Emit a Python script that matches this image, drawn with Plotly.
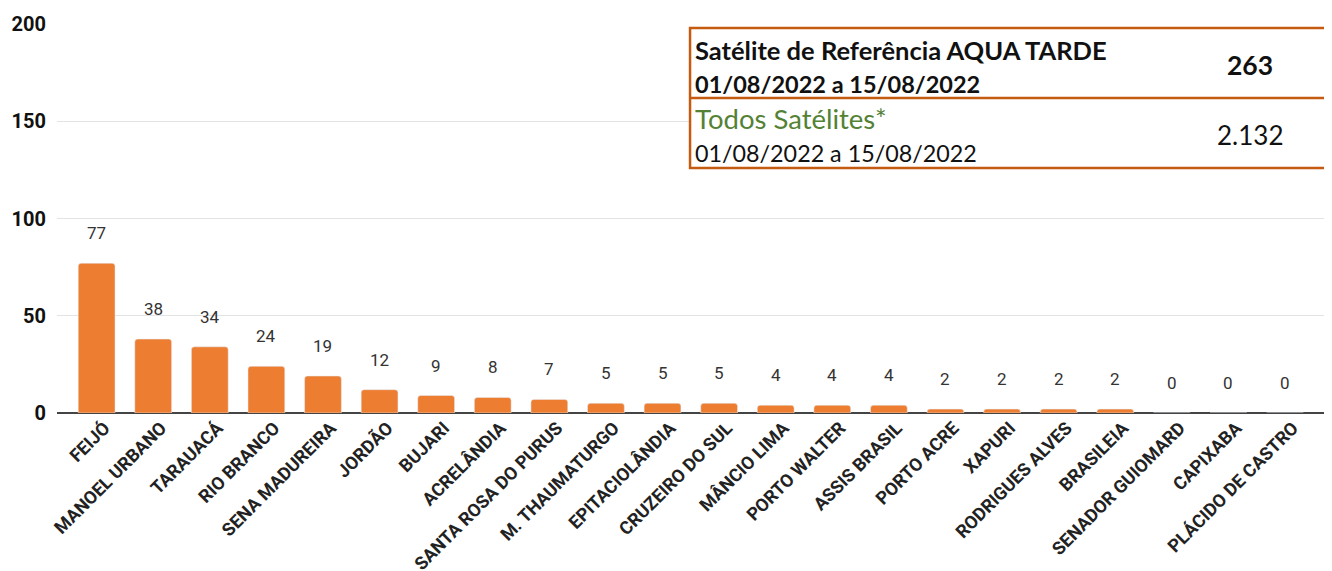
import plotly.graph_objects as go

categorias = ["FEIJÓ", "MANOEL URBANO", "TARAUACÁ", "RIO BRANCO", "SENA MADUREIRA",
              "JORDÃO", "BUJARI", "ACRELÂNDIA", "SANTA ROSA DO PURUS", "M. THAUMATURGO",
              "EPITACIOLÂNDIA", "CRUZEIRO DO SUL", "MÂNCIO LIMA", "PORTO WALTER",
              "ASSIS BRASIL", "PORTO ACRE", "XAPURI", "RODRIGUES ALVES", "BRASILEIA",
              "SENADOR GUIOMARD", "CAPIXABA", "PLÁCIDO DE CASTRO"]
focos = [77, 38, 34, 24, 19, 12, 9, 8, 7, 5, 5, 5, 4, 4, 4, 2, 2, 2, 2, 0, 0, 0]
y_ticks = [0, 50, 100, 150, 200]

ref_titulo = "Satélite de Referência"
ref_satelite = "AQUA TARDE"
periodo = "01/08/2022 a 15/08/2022"
ref_total = "263"
todos_titulo = "Todos Satélites*"
todos_total = "2.132"

BAR = "#ED7D31"
BORDER = "#C55A11"
GREEN = "#548235"

fig = go.Figure()
fig.add_trace(go.Bar(
    x=list(range(len(categorias))), y=focos,
    marker=dict(color=BAR, cornerradius=3),
    width=0.65, hoverinfo="x+y",
))

for i, v in enumerate(focos):
    fig.add_annotation(x=i, y=v, text=str(v), showarrow=False, yshift=30,
                       font=dict(family="Roboto", size=17, color="#333333"))

# table box
L, T, B, M, R = 0.4965, 0.9897, 0.6298, 0.8098, 0.9995
fig.add_shape(type="rect", xref="paper", yref="paper", x0=L, x1=R, y0=B, y1=T,
              fillcolor="white", line=dict(color=BORDER, width=2.5), layer="above")
fig.add_shape(type="line", xref="paper", yref="paper", x0=L, x1=R, y0=M, y1=M,
              line=dict(color=BORDER, width=2.5), layer="above")

tx = 0.4985
cx = 0.9357
fnt = "Lato"
fig.add_annotation(xref="paper", yref="paper", x=tx, y=0.933, xanchor="left", yanchor="middle",
                   text=f"<b>{ref_titulo} {ref_satelite}</b>",
                   showarrow=False, font=dict(family=fnt, size=25.5, color="#111111"))
fig.add_annotation(xref="paper", yref="paper", x=tx, y=0.8458, xanchor="left", yanchor="middle",
                   text=f"<b>{periodo}</b>", showarrow=False,
                   font=dict(family=fnt, size=23.5, color="#111111"))
fig.add_annotation(xref="paper", yref="paper", x=cx, y=0.8946, xanchor="center", yanchor="middle",
                   text=f"<b>{ref_total}</b>", showarrow=False,
                   font=dict(family=fnt, size=26.5, color="#111111"))
fig.add_annotation(xref="paper", yref="paper", x=tx, y=0.7558, xanchor="left", yanchor="middle",
                   text=todos_titulo, showarrow=False,
                   font=dict(family=fnt, size=27.5, color=GREEN))
fig.add_annotation(xref="paper", yref="paper", x=tx, y=0.668, xanchor="left", yanchor="middle",
                   text=periodo, showarrow=False,
                   font=dict(family=fnt, size=23.3, color="#111111"))
fig.add_annotation(xref="paper", yref="paper", x=cx, y=0.7147, xanchor="center", yanchor="middle",
                   text=todos_total, showarrow=False,
                   font=dict(family=fnt, size=26, color="#111111"))

# page body has an 8px default margin: size the figure to fill the rest of the window
fig.update_layout(
    width=1324, height=563,
    margin=dict(l=49, r=0, t=16, b=158),
    plot_bgcolor="white", paper_bgcolor="white",
    showlegend=False, bargap=0.35,
    xaxis=dict(tickmode="array", tickvals=list(range(len(categorias))),
               ticktext=[f"<b>{c}</b>" for c in categorias], automargin=False,
               tickangle=-45, range=[-0.70, 21.83], showgrid=False, showline=False,
               ticklabelshift=8,
               tickfont=dict(family="Roboto", size=18, color="#222222")),
    yaxis=dict(range=[0, 200], tickvals=y_ticks, ticktext=[f"<b>{t}</b>" for t in y_ticks],
               gridcolor="#e3e3e3", gridwidth=1, zeroline=True, zerolinecolor="#444444",
               zerolinewidth=1.5, ticklabelstandoff=10, automargin=False,
               tickfont=dict(family="Roboto", size=20, color="#111111")),
)

fig.write_html("out.html")
